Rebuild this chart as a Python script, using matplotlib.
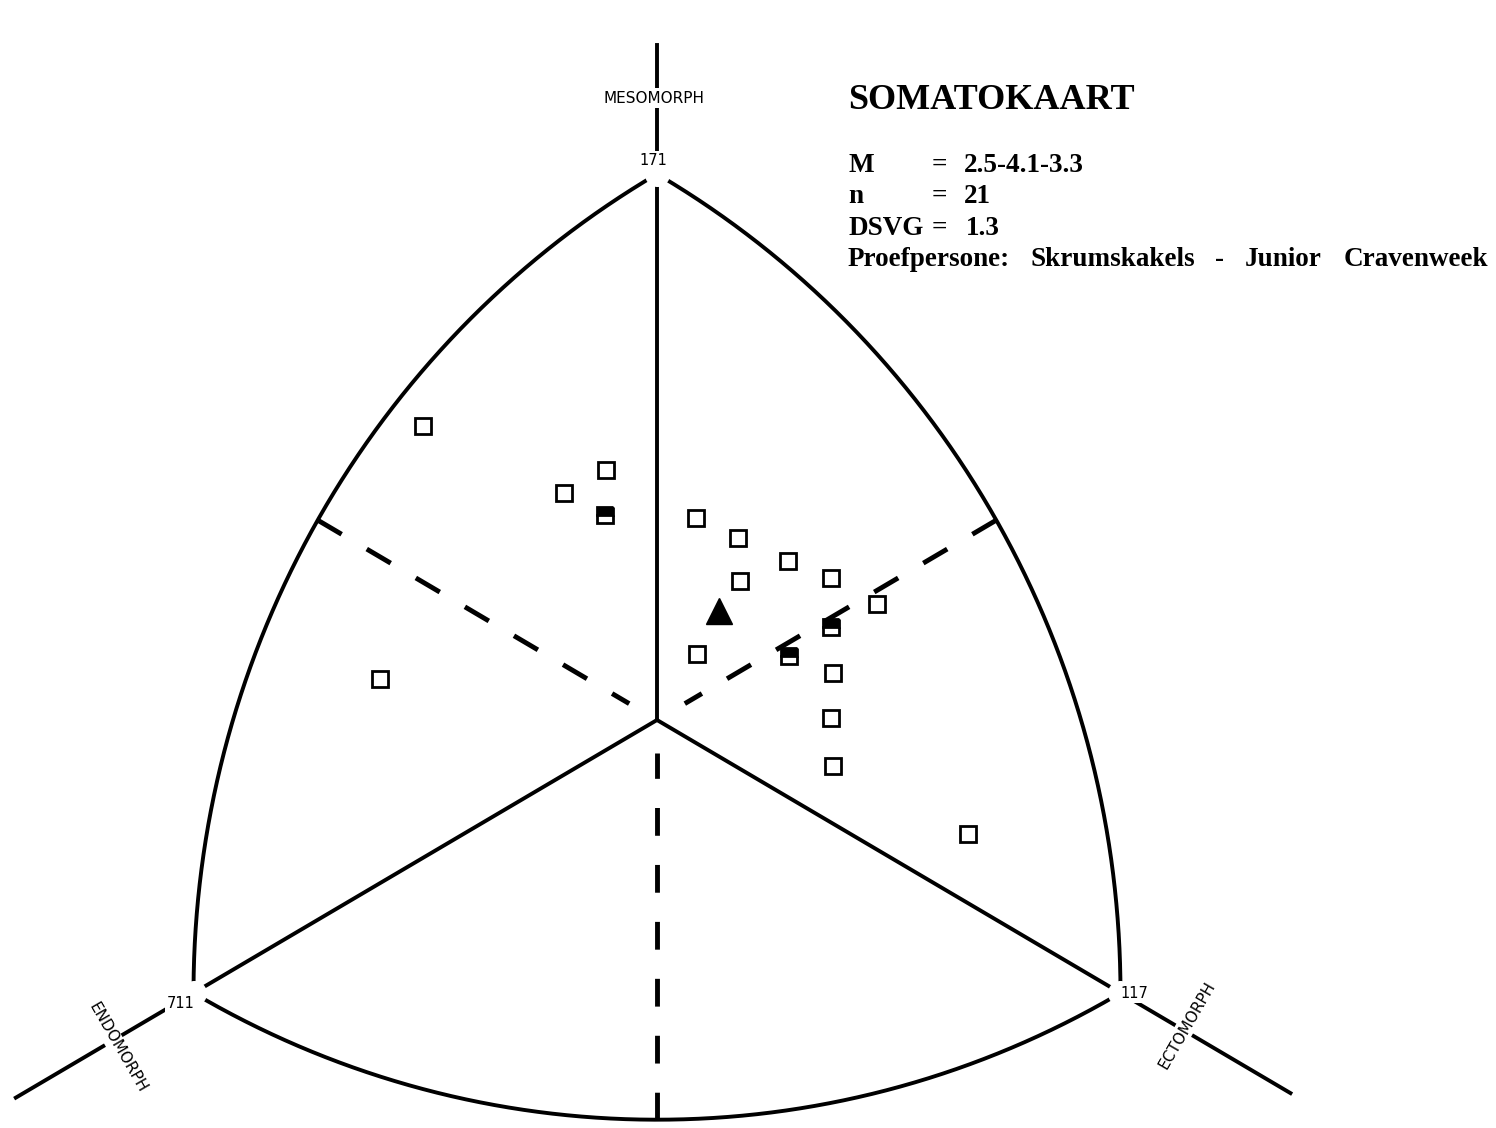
import numpy as np
import matplotlib.pyplot as plt

plt.rcParams['lines.scale_dashes'] = False

# somatochart coordinates of each subject: X = ecto - endo, Y = 2*meso - (endo + ecto)
subj_x = [-3.03, -0.66, -1.20, 0.51, 1.05, 1.70, 1.08, 2.25, 2.85,
          0.52, 2.28, -3.59, 2.25, 2.28, 4.02]
subj_y = [6.46, 5.49, 4.99, 4.44, 4.00, 3.49, 3.05, 3.12, 2.55,
          1.45, 1.03, 0.90, 0.04, -1.01, -2.51]
# half-filled squares = two subjects on the same spot
pair_x = [-0.67, 2.25, 1.71]
pair_y = [4.51, 2.04, 1.41]

mean_somatotype = (2.5, 4.1, 3.3)   # endo, meso, ecto
n_subj = 21
dsvg = 1.3
subtitle_words = ['Proefpersone:', 'Skrumskakels', '-', 'Junior', 'Cravenweek']

S3 = np.sqrt(3)

def to_uv(x, y):
    # stretch X so the chart triangle is equilateral
    return S3 * np.asarray(x, float), np.asarray(y, float)

fig = plt.figure(figsize=(14.96, 11.28), dpi=100)
ax = fig.add_axes([0, 0, 1, 1])
# pixel mapping: u -> 657 + 44.6*u , v -> 720 - 45.5*v
ax.set_xlim(-657 / 44.6, (1496 - 657) / 44.6)
ax.set_ylim((720 - 1128) / 45.5, 720 / 45.5)
ax.axis('off')

T = np.array([0.0, 12.0])
L = np.array([-6 * S3, -6.0])
R = np.array([6 * S3, -6.0])
rad = 12 * S3
lw = 2.8

def arc(c, a0, a1):
    t = np.radians(np.linspace(a0, a1, 200))
    ax.plot(c[0] + rad * np.cos(t), c[1] + rad * np.sin(t), color='black', lw=lw, zorder=2)

arc(L, 0, 60)
arc(R, 120, 180)
arc(T, 240, 300)

# solid spokes from 111 to the three corners
for v in (T, L, R):
    ax.plot([0, v[0]], [0, v[1]], color='black', lw=lw, zorder=2)

# dashed spokes from the arc midpoints back toward the centre
r_mid = rad - 12
for ang in (30, 150, 270):
    d = np.array([np.cos(np.radians(ang)), np.sin(np.radians(ang))])
    p0, p1 = d * r_mid, d * 0.72
    ax.plot([p0[0], p1[0]], [p0[1], p1[1]], color='black', lw=3.5,
            dashes=(20, 21), zorder=2)

# axis extensions beyond the corners
for ang, r_end in ((90, 14.84), (210, 16.6), (330, 16.4)):
    d = np.array([np.cos(np.radians(ang)), np.sin(np.radians(ang))])
    p0, p1 = d * 12, d * r_end
    ax.plot([p0[0], p1[0]], [p0[1], p1[1]], color='black', lw=lw, zorder=2)

# blank out the corners
ax.plot([T[0], L[0], R[0]], [T[1], L[1], R[1]], 'o', color='white', ms=17, zorder=3)

box = dict(facecolor='white', edgecolor='none', pad=1.5)
lab = dict(family='DejaVu Sans', color='black', ha='center', va='center', zorder=4, bbox=box)
ax.text(-0.09, 12.29, '171', fontsize=10.5, **lab)
ax.text(-10.67, -6.22, '711', fontsize=10.5, **lab)
ax.text(10.70, -6.0, '117', fontsize=10.5, **lab)
ax.text(-0.07, 13.67, 'MESOMORPH', fontsize=11, **lab)
ax.text(-12.09, -7.21, 'ENDOMORPH', fontsize=11, rotation=-60, rotation_mode='anchor', **lab)
ax.text(11.88, -6.70, 'ECTOMORPH', fontsize=11, rotation=60, rotation_mode='anchor', **lab)

# subjects
u, v = to_uv(subj_x, subj_y)
ax.plot(u, v, 's', ms=12, mfc='white', mec='black', mew=2.0, zorder=5)
u, v = to_uv(pair_x, pair_y)
ax.plot(u, v, 's', ms=12, fillstyle='top', mfc='black', mfcalt='white',
        mec='black', mew=2.0, zorder=5)

# mean somatotype
en, me, ec = mean_somatotype
mu, mv = to_uv(ec - en, 2 * me - en - ec)
ax.plot(mu, mv, '^', ms=19, color='black', zorder=6)

# info block
W, H = 1496, 1128
serif = dict(family='Liberation Serif', fontweight='bold', color='black',
             transform=fig.transFigure, va='baseline', ha='left')

def put(x, y, s, size=19.5):
    ax.text(x / W, 1 - y / H, s, fontsize=size, **serif)

put(848, 109, 'SOMATOKAART', size=26)
put(848, 172, 'M')
put(932, 172, '=')
put(964, 172, '-'.join(f'{c:.1f}' for c in mean_somatotype))
put(848, 203, 'n')
put(932, 203, '=')
put(964, 203, str(n_subj))
put(848, 235, 'DSVG')
put(932, 235, '=')
put(966, 235, str(dsvg))
for x, w in zip([848, 1030, 1215, 1245, 1344], subtitle_words):
    put(x, 266, w)

fig.savefig('out.png', dpi=100, facecolor='white')
